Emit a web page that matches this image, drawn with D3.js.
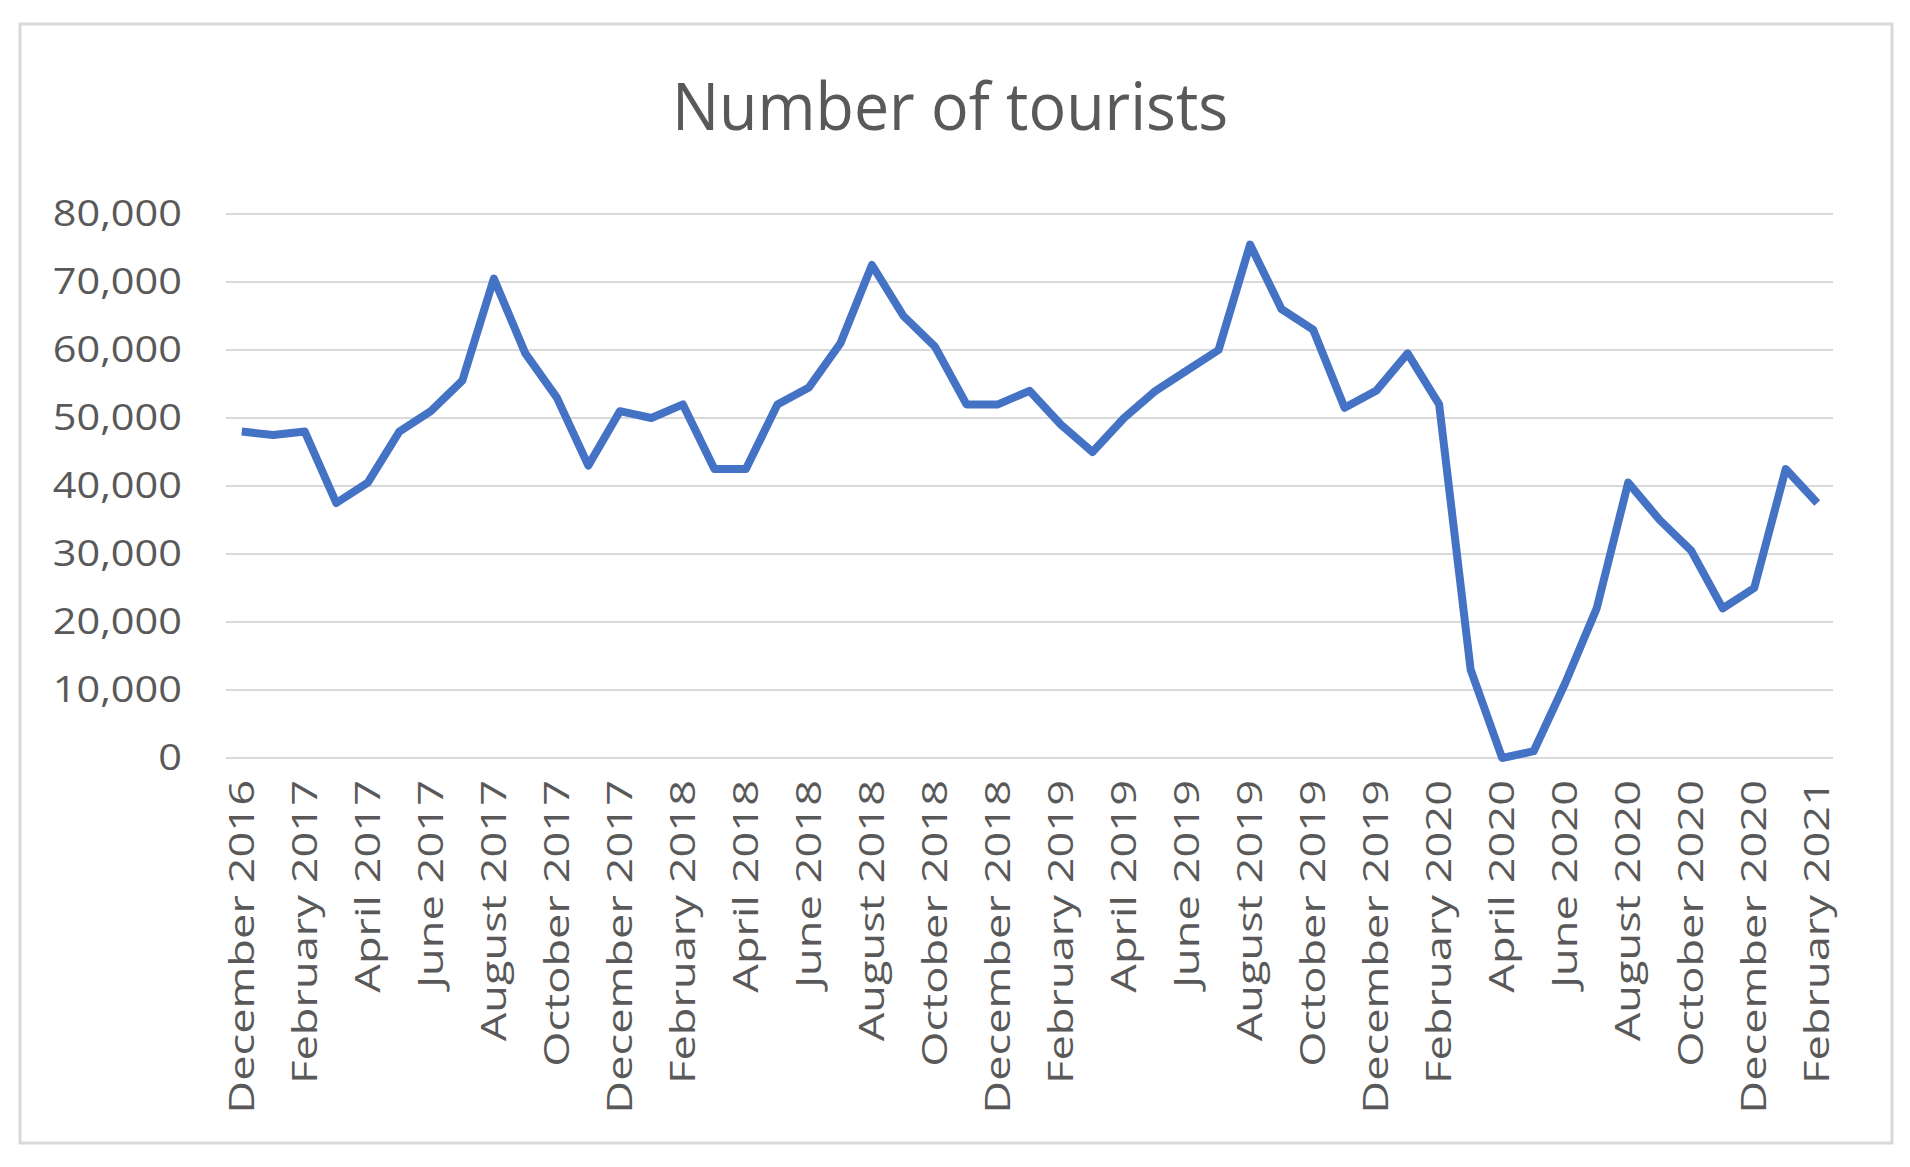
<!DOCTYPE html>
<html><head><meta charset="utf-8">
<script src="https://cdn.jsdelivr.net/npm/d3@7"></script>
<style>body{margin:0;background:#fff}</style>
</head><body>
<svg id="chart" width="1910" height="1167"></svg>
<script>
const months = ["January","February","March","April","May","June","July","August","September","October","November","December"];
// Dec 2016 .. Feb 2021
const periods = [];
for (let i = 0; i < 51; i++) {
  const m = (11 + i) % 12, y = 2016 + Math.floor((11 + i) / 12);
  periods.push(months[m] + " " + y);
}
const tourists = [48000,47500,48000,37500,40500,48000,51000,55500,70500,59500,53000,43000,
  51000,50000,52000,42500,42500,52000,54500,61000,72500,65000,60500,52000,
  52000,54000,49000,45000,50000,54000,57000,60000,75500,66000,63000,51500,
  54000,59500,52000,13000,0,1000,11000,22000,40500,35000,30500,22000,
  25000,42500,37500];
const yTicks = [0,10000,20000,30000,40000,50000,60000,70000,80000];

const svg = d3.select("#chart");
const font = "'Open Sans', sans-serif", grey = "#595959";
svg.append("rect").attr("x",20).attr("y",24).attr("width",1872).attr("height",1119)
  .attr("fill","#fff").attr("stroke","#d9d9d9").attr("stroke-width",3);

svg.append("text").attr("transform","translate(950,130) scale(1.1,1.15)").attr("text-anchor","middle")
  .attr("font-family",font).attr("font-size",57).attr("fill",grey).text("Number of tourists");

const x = d3.scaleBand().domain(periods).range([226,1833]);
const y = d3.scaleLinear().domain([0,80000]).range([758,214]);

const grid = svg.append("g");
grid.selectAll("line").data(yTicks).join("line")
  .attr("x1",226).attr("x2",1833).attr("y1",d=>y(d)).attr("y2",d=>y(d))
  .attr("stroke","#d9d9d9").attr("stroke-width",2);

const fmt = d3.format(",");
svg.append("g").selectAll("text").data(yTicks).join("text")
  .attr("transform",d=>`translate(182,${y(d)}) scale(1.22,1.05)`).attr("dy","0.35em").attr("text-anchor","end")
  .attr("font-family",font).attr("font-size",34).attr("fill",grey).text(d=>fmt(d));

svg.append("g").selectAll("text").data(periods.filter((d,i)=>i%2===0)).join("text")
  .attr("transform",d=>`translate(${x(d)+x.bandwidth()/2+12},780) rotate(-90) scale(1.37,1.05)`)
  .attr("text-anchor","end").attr("font-family",font).attr("font-size",33).attr("fill",grey).text(d=>d);

svg.append("path").datum(tourists)
  .attr("d", d3.line().x((d,i)=>x(periods[i])+x.bandwidth()/2).y(d=>y(d)))
  .attr("fill","none").attr("stroke","#4472C4").attr("stroke-width",8).attr("stroke-linejoin","round");
</script>
</body></html>
